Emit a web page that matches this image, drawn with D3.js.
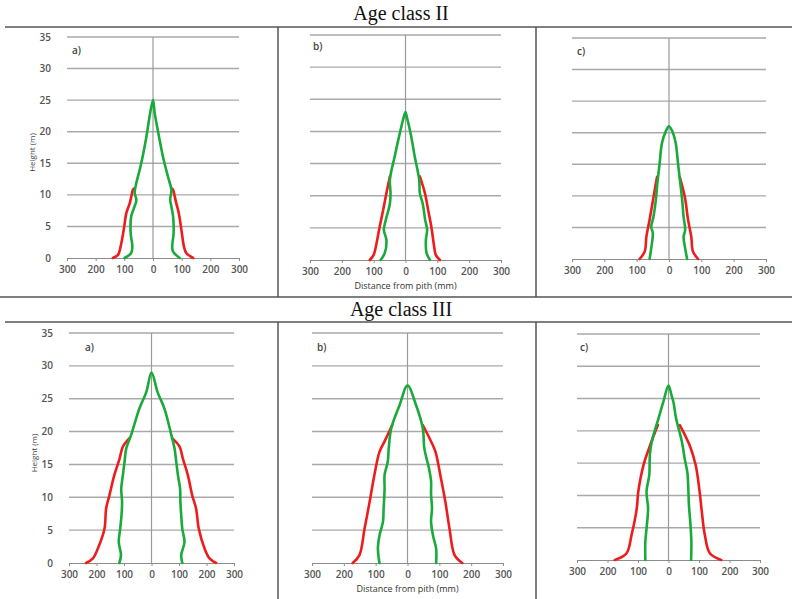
<!DOCTYPE html>
<html>
<head>
<meta charset="utf-8">
<script src="https://cdn.jsdelivr.net/npm/d3@7"></script>
<style>
  body { margin: 0; background: #fff; }
  svg { display: block; }
</style>
</head>
<body>
<div id="chart"></div>
<script>
// tick values
const xTicks = [-300, -200, -100, 0, 100, 200, 300];
const yTicks = [0, 5, 10, 15, 20, 25, 30, 35];

// [distance from pith (mm), height (m)] -- green runs bottom-left -> apex -> bottom-right
// Age class II
const greenIIa = [[-99,0],[-76,0.8],[-72,1.8],[-78,4],[-76,6.6],[-64,8.2],[-58,9.2],[-64,10.3],[-60,11.5],[-41,15],[-23,19.2],[-12,22.4],[0,25],[6,22.9],[21,19.2],[35,16],[52,12.9],[64,10.8],[60,9.2],[64,8.2],[70,6.6],[72,4],[67,1.8],[70,1],[93,0]];
const redLIIa = [[-140,0],[-122,0.5],[-114,1.6],[-102,4.5],[-93,7.1],[-81,8.7],[-70,10.8],[-67,11]];
const redRIIa = [[140,0],[116,0.8],[108,1.8],[99,4.5],[90,7.1],[81,8.7],[70,10.8],[67,11]];

const greenIIb = [[-78,0],[-65,1.1],[-60,3.1],[-68,4.7],[-62,6.2],[-49,8.8],[-47,10.4],[-49,12.5],[-34,16.1],[-18,19.7],[-4,22.5],[0,23],[3,22.5],[16,19.7],[29,16.1],[43,12.5],[45,10.4],[54,8.8],[62,6.2],[68,4.7],[64,3.1],[66,1.1],[77,0]];
const redLIIb = [[-112,0],[-100,0.8],[-93,2.1],[-81,5.2],[-70,7.8],[-60,10.4],[-49,13]];
const redRIIb = [[108,0],[95,0.8],[90,2.1],[81,5.2],[71,7.8],[61,10.4],[45,13]];

const greenIIc = [[-60,0],[-55,1.7],[-50,4.1],[-55,5.1],[-48,6.7],[-41,9.2],[-36,12],[-29,15.1],[-22,18.3],[-11,20.1],[0,21],[12,20],[21,18.3],[28,15.1],[35,12],[41,9.2],[45,6.7],[50,4.6],[45,3.5],[49,2],[56,0]];
const redLIIc = [[-91,0],[-75,1.2],[-70,3.5],[-60,6.2],[-48,9.8],[-37,13]];
const redRIIc = [[90,0],[74,1.2],[69,3.5],[59,6.2],[49,9.8],[33,13]];

// Age class III
const greenIIIa = [[-117,0],[-111,1.2],[-119,3.2],[-114,5.2],[-109,7.3],[-107,9.3],[-110,11.3],[-104,13.4],[-98,15.4],[-92,17.4],[-74,19.5],[-44,23.5],[-19,26],[0,29],[22,26],[47,23.5],[72,19.5],[84,17.4],[90,15.4],[96,13.4],[104,11.3],[105,9.3],[108,7.3],[112,5.2],[120,3.2],[108,1.2],[112,0]];
const redLIIIa = [[-238,0],[-213,0.7],[-195,2.2],[-171,5.2],[-165,8.3],[-153,10.3],[-135,13.4],[-116,15.9],[-104,17.7],[-80,19]];
const redRIIIa = [[235,0],[211,0.7],[193,2.2],[172,5.2],[162,8.3],[148,10.3],[132,13.4],[114,15.9],[102,17.7],[75,19]];

const greenIIIb = [[-88,0],[-93,2.2],[-88,4.2],[-77,6.3],[-75,8.3],[-72,11.3],[-72,13.4],[-62,15.4],[-59,17.4],[-51,20.5],[-25,24],[0,27],[27,24],[48,20.5],[53,17.4],[67,14.5],[74,12.5],[74,10.5],[77,8.3],[74,6.3],[80,4.2],[90,2.2],[90,0]];
const redLIIIb = [[-172,0],[-151,1.2],[-135,5.2],[-119,9.3],[-104,13.4],[-88,16.9],[-72,18.5],[-48,21]];
const redRIIIb = [[172,0],[148,1.2],[132,5.2],[119,9.3],[103,13.4],[88,16.9],[74,18.5],[48,21]];

const greenIIIc = [[-76,0],[-76,2.8],[-72,4.9],[-67,8],[-72,10.6],[-63,13.2],[-61,16.3],[-55,18.3],[-33,21.9],[-17,24.5],[0,27],[10,25.5],[16,24.5],[25,21.9],[44,18.3],[53,15.7],[62,13.5],[65,11],[67,8.5],[72,5.5],[75,2.8],[74,0]];
const redLIIIc = [[-176,0],[-138,1],[-121,3.9],[-104,8],[-99,10.6],[-82,14.7],[-60,17.8],[-35,20.9]];
const redRIIIc = [[173,0],[136,1],[119,3.9],[108,8],[102,10.6],[89,14.7],[69,17.8],[37,20.9]];

const rowTitles = ["Age class II", "Age class III"];
const xTitle = "Distance from pith (mm)";
const yTitle = "Height (m)";

// panel placement (pasted images are not perfectly aligned, so each has its own box)
const panels = [
  { label: "a)", x0: 67, x1: 239, yTop: 37, yBot: 258, lx: 72, ly: 54, green: greenIIa, red: [redLIIa, redRIIa], yLabels: true, xTitle: false },
  { label: "b)", x0: 310, x1: 501, yTop: 35, yBot: 260, lx: 313, ly: 50, green: greenIIb, red: [redLIIb, redRIIb], yLabels: false, xTitle: true },
  { label: "c)", x0: 572, x1: 766, yTop: 38, yBot: 259, lx: 577, ly: 55, green: greenIIc, red: [redLIIc, redRIIc], yLabels: false, xTitle: false },
  { label: "a)", x0: 69, x1: 234, yTop: 333, yBot: 563, lx: 85, ly: 351, green: greenIIIa, red: [redLIIIa, redRIIIa], yLabels: true, xTitle: false },
  { label: "b)", x0: 312, x1: 503, yTop: 333, yBot: 563, lx: 317, ly: 351, green: greenIIIb, red: [redLIIIb, redRIIIb], yLabels: false, xTitle: true },
  { label: "c)", x0: 577, x1: 760, yTop: 334, yBot: 560, lx: 580, ly: 351, green: greenIIIc, red: [redLIIIc, redRIIIc], yLabels: false, xTitle: false }
];

const W = 792, H = 599;
const svg = d3.select("#chart").append("svg")
  .attr("width", W)
  .attr("height", H);

svg.append("rect").attr("width", W).attr("height", H).attr("fill", "#fff");

// frame lines
const frame = svg.append("g").attr("stroke", "#555").attr("stroke-width", 1.5);
[[5, 27, W, 27], [0, 297, W, 297], [5, 322, W, 322],
 [278, 27, 278, 297], [536, 27, 536, 297], [278, 322, 278, H], [536, 322, 536, H]]
  .forEach(l => frame.append("line").attr("x1", l[0]).attr("y1", l[1]).attr("x2", l[2]).attr("y2", l[3]));

// row titles
svg.selectAll("text.rowtitle")
  .data(rowTitles)
  .enter()
  .append("text")
  .attr("class", "rowtitle")
  .attr("x", 401)
  .attr("y", (d, i) => (i === 0 ? 20 : 316))
  .attr("text-anchor", "middle")
  .style("font-family", "'Liberation Serif', 'DejaVu Serif', serif")
  .style("font-size", "20px")
  .attr("fill", "#111")
  .text(d => d);

const tickFont = "'Open Sans', 'Liberation Sans', sans-serif";

panels.forEach(p => {
  const x = d3.scaleLinear().domain([-300, 300]).range([p.x0, p.x1]);
  const y = d3.scaleLinear().domain([0, 35]).range([p.yBot, p.yTop]);
  const g = svg.append("g");

  // horizontal gridlines
  g.selectAll("line.grid")
    .data(yTicks.filter(t => t > 0))
    .enter()
    .append("line")
    .attr("x1", x(-300))
    .attr("x2", x(300))
    .attr("y1", d => y(d))
    .attr("y2", d => y(d))
    .attr("stroke", "#a9a9a9")
    .attr("stroke-width", 1.4);

  // centre (pith) line
  g.append("line")
    .attr("x1", x(0)).attr("x2", x(0))
    .attr("y1", y(35)).attr("y2", y(0))
    .attr("stroke", "#9a9a9a")
    .attr("stroke-width", 1.2);

  // x axis
  const ax = g.append("g")
    .attr("transform", `translate(0,${y(0)})`)
    .call(d3.axisBottom(x).tickValues(xTicks).tickSize(3).tickSizeOuter(0).tickFormat(d => Math.abs(d)));
  ax.select(".domain").attr("stroke", "#8c8c8c").attr("stroke-width", 1.2);
  ax.selectAll(".tick line").attr("stroke", "#8c8c8c");
  ax.selectAll(".tick text")
    .attr("y", 8)
    .attr("fill", "#555")
    .style("font-family", tickFont)
    .style("font-size", "10px")
    .style("font-weight", "600");

  // y tick labels (first column only)
  if (p.yLabels) {
    g.selectAll("text.ytick")
      .data(yTicks)
      .enter()
      .append("text")
      .attr("x", p.x0 - 16)
      .attr("y", d => y(d))
      .attr("dy", "0.35em")
      .attr("text-anchor", "end")
      .attr("fill", "#555")
      .style("font-family", tickFont)
      .style("font-size", "10px")
      .style("font-weight", "600")
      .text(d => d);

    g.append("text")
      .attr("transform", `translate(${p.x0 - 32},${(y(0) + y(35)) / 2 + 5}) rotate(-90)`)
      .attr("text-anchor", "middle")
      .attr("fill", "#444")
      .style("font-family", tickFont)
      .style("font-size", "8px")
      .text(yTitle);
  }

  if (p.xTitle) {
    g.append("text")
      .attr("x", x(0))
      .attr("y", y(0) + 29)
      .attr("text-anchor", "middle")
      .attr("fill", "#333")
      .style("font-family", tickFont)
      .style("font-size", "9px")
      .text(xTitle);
  }

  // panel letter
  g.append("text")
    .attr("x", p.lx)
    .attr("y", p.ly)
    .attr("fill", "#444")
    .style("font-family", tickFont)
    .style("font-size", "10px")
    .style("font-weight", "600")
    .text(p.label);

  const line = d3.line()
    .x(d => x(d[0]))
    .y(d => y(d[1]))
    .curve(d3.curveCatmullRom.alpha(0.5));

  g.selectAll("path.red")
    .data(p.red)
    .enter()
    .append("path")
    .attr("d", line)
    .attr("fill", "none")
    .attr("stroke", "#ee1c1c")
    .attr("stroke-width", 2.6)
    .attr("stroke-linecap", "round")
    .attr("stroke-linejoin", "round");

  g.append("path")
    .datum(p.green)
    .attr("d", line)
    .attr("fill", "none")
    .attr("stroke", "#1aaa3c")
    .attr("stroke-width", 2.6)
    .attr("stroke-linecap", "round")
    .attr("stroke-linejoin", "round");
});
</script>
</body>
</html>
